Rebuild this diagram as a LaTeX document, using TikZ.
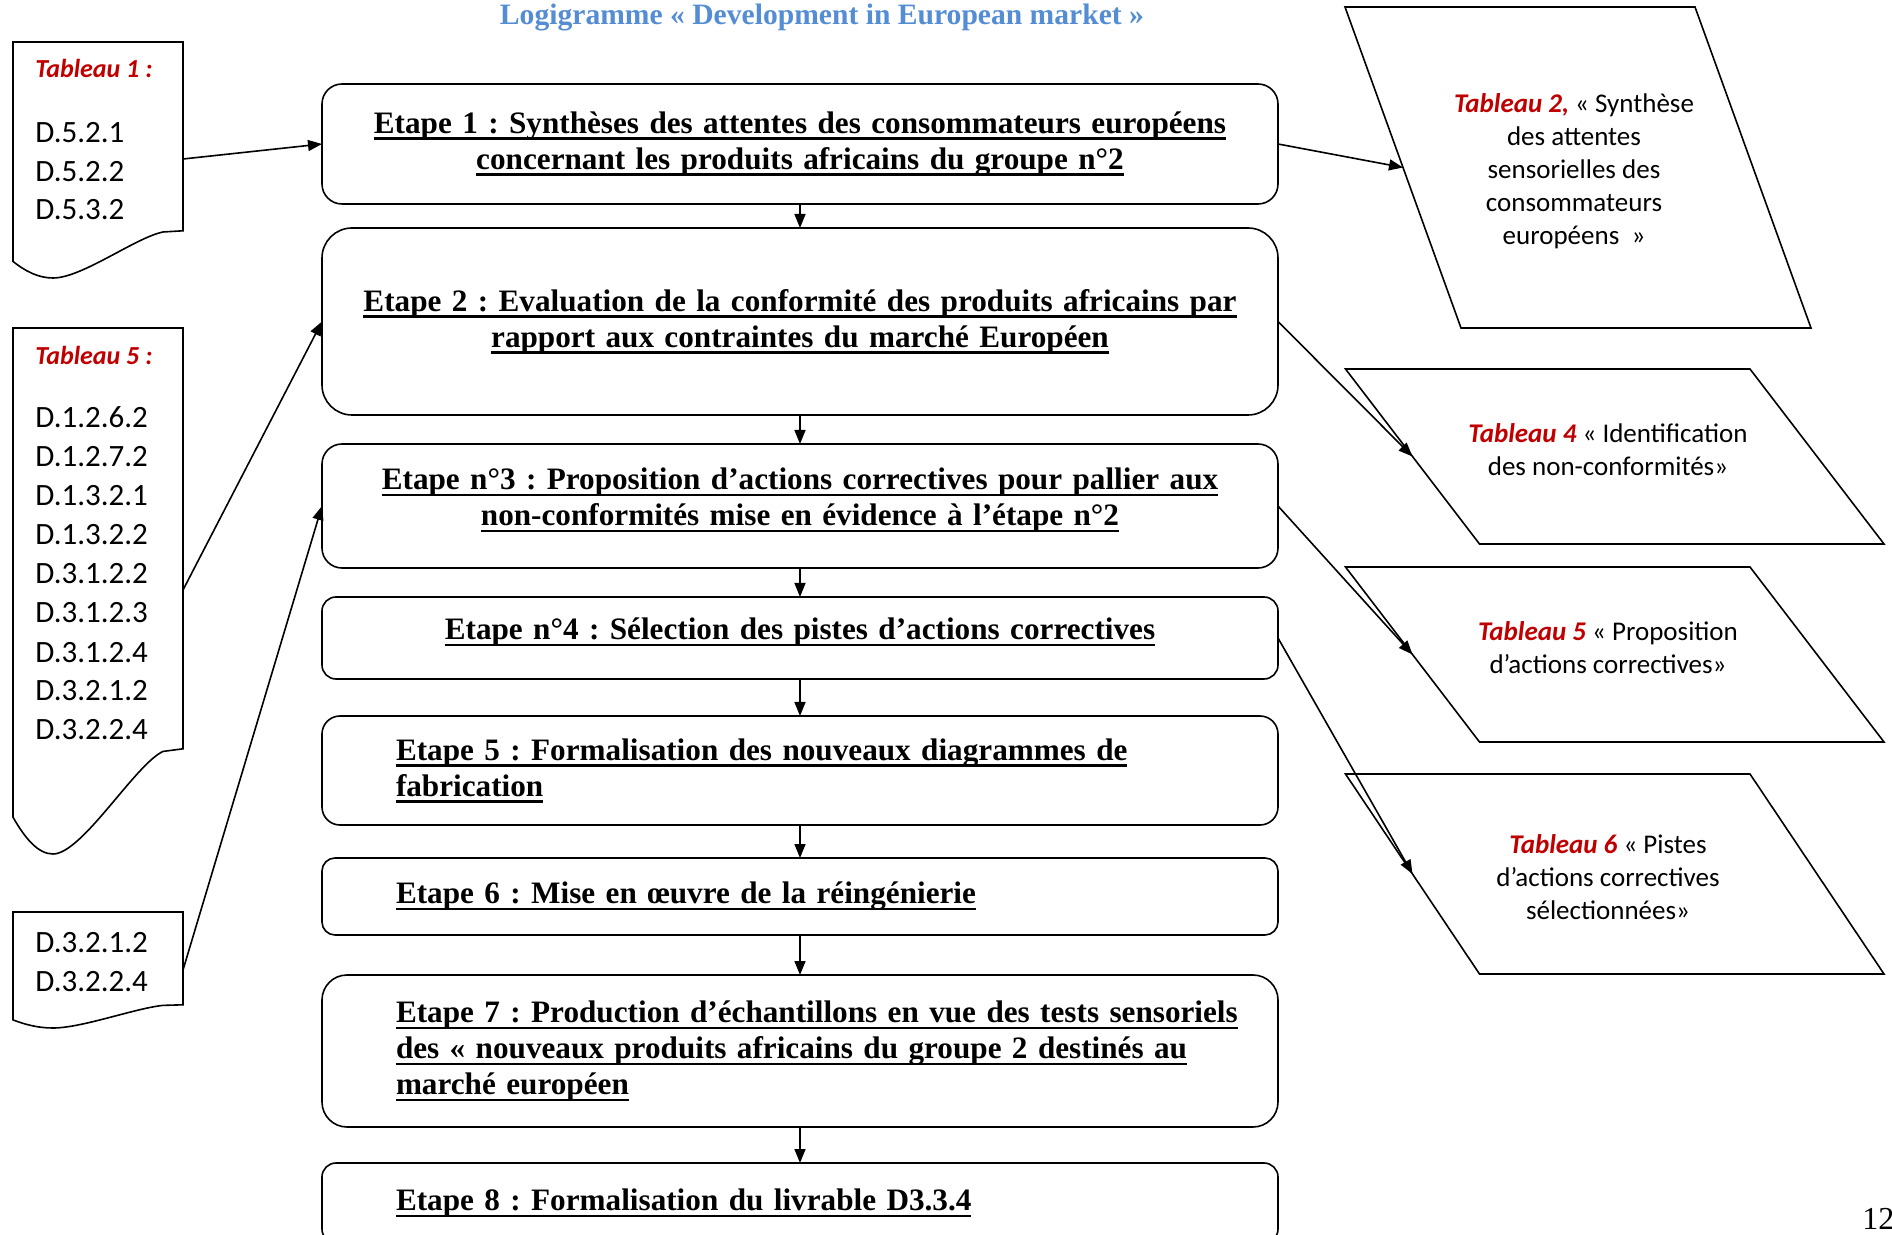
\documentclass[tikz,border=0pt]{standalone}
\usepackage{fontspec}
\setmainfont{Liberation Serif}
\newfontfamily\calibri{Carlito}
\usetikzlibrary{arrows.meta, positioning}
\definecolor{tabred}{RGB}{192,0,0}
\definecolor{titleblue}{RGB}{84,141,212}
\frenchspacing
% thick underline for the step titles
\newcommand{\etapeul}[1]{\leavevmode\setbox0\hbox{#1}\rlap{\rule[-3.2pt]{\wd0}{1.2pt}}\box0}
% document shape: #1 = top, #2 = height (px)
\newcommand{\docshape}[2]{%
  \draw[docline] (13,#1) -- (183,#1) -- (183,{#1+0.8*#2}) -- (163,{#1+0.805*#2})
    .. controls (135,{#1+0.83*#2}) and (82,{#1+#2}) .. (53,{#1+#2})
    .. controls (38,{#1+#2}) and (25,{#1+0.97*#2}) .. (13,{#1+0.93*#2}) -- cycle;}

\begin{document}
\begin{tikzpicture}[
    x=0.5pt, y=-0.5pt,
    stepbox/.style={draw, line width=0.8pt, outer sep=0pt, align=center, text width=470pt, minimum width=478pt, inner sep=2pt, font=\bfseries\fontsize{15.6}{18}\selectfont},
    stepleft/.style={stepbox, align=left, text width=404pt},
    docline/.style={line width=0.8pt},
    doctext/.style={anchor=base west, inner sep=0pt, font=\calibri\fontsize{15.5}{19}\selectfont},
    doctitle/.style={doctext, text=tabred, font=\calibri\bfseries\itshape\fontsize{13}{16}\selectfont},
    tabshape/.style={line width=0.8pt},
    tabtext/.style={align=center, font=\calibri\fontsize{13.5}{16.5}\selectfont},
    arr/.style={-{Triangle[length=7pt, width=5.5pt]}, line width=0.8pt}
]
\useasboundingbox (0,0) rectangle (1892,1235);

\node[anchor=base, text=titleblue, font=\bfseries\fontsize{14.8}{18}\selectfont] (titre) at (822,25) {Logigramme « Development in European market »};

% steps
\node[stepbox, minimum height=60pt, rounded corners=10pt] (e1) at (800,144) {\etapeul{Etape 1 : Synthèses des attentes des consommateurs européens}\\\etapeul{concernant les produits africains du groupe n°2}};
\node[stepbox, below=12pt of e1, minimum height=93.5pt, rounded corners=15pt] (e2) {\etapeul{Etape 2 : Evaluation de la conformité des produits africains par}\\\etapeul{rapport aux contraintes du marché Européen}};
\node[stepbox, below=14.5pt of e2, minimum height=62pt, rounded corners=10pt, text depth=27.2pt] (e3) {\etapeul{Etape n°3 : Proposition d’actions correctives pour pallier aux}\\\etapeul{non-conformités mise en évidence à l’étape n°2}};
\node[stepbox, below=14.5pt of e3, minimum height=41pt, rounded corners=7pt, text depth=9pt] (e4) {\etapeul{Etape n°4 : Sélection des pistes d’actions correctives}};
\node[stepleft, below=18.5pt of e4, minimum height=54.5pt, rounded corners=9pt] (e5) {\etapeul{Etape 5 : Formalisation des nouveaux diagrammes de}\\\etapeul{fabrication}};
\node[stepleft, below=16.5pt of e5, minimum height=38.5pt, rounded corners=6.5pt] (e6) {\etapeul{Etape 6 : Mise en œuvre de la réingénierie}};
\node[stepleft, below=20pt of e6, minimum height=76pt, rounded corners=12.5pt] (e7) {\etapeul{Etape 7 : Production d’échantillons en vue des tests sensoriels}\\\etapeul{des « nouveaux produits africains du groupe 2 destinés au}\\\etapeul{marché européen}};
\node[stepleft, below=18pt of e7, minimum height=40pt, rounded corners=7pt] (e8) {\etapeul{Etape 8 : Formalisation du livrable D3.3.4}};

\foreach \a/\b in {e1/e2, e2/e3, e3/e4, e4/e5, e5/e6, e6/e7, e7/e8}
  \draw[arr] (\a) -- (\b);

% input documents
\docshape{42}{236}
\node[doctitle] (tab1) at (35,78) {Tableau 1 :};
\foreach \code [count=\i] in {D.5.2.1, D.5.2.2, D.5.3.2}
  \node[doctext] (d1l\i) at (35,{143+38.5*(\i-1)}) {\code};
\coordinate (d1out) at (183,159);

\docshape{328}{526}
\node[doctitle] (tab5) at (35,365) {Tableau 5 :};
\foreach \code [count=\i] in {D.1.2.6.2, D.1.2.7.2, D.1.3.2.1, D.1.3.2.2, D.3.1.2.2, D.3.1.2.3, D.3.1.2.4, D.3.2.1.2, D.3.2.2.4}
  \node[doctext] (d2l\i) at (35,{428+39*(\i-1)}) {\code};
\coordinate (d2out) at (183,590);

\docshape{912}{116}
\foreach \code [count=\i] in {D.3.2.1.2, D.3.2.2.4}
  \node[doctext] (d3l\i) at (35,{952+39*(\i-1)}) {\code};
\coordinate (d3out) at (183,970);

\draw[arr] (d1out) -- (e1.west);
\draw[arr] (d2out) -- (e2.west);
\draw[arr] (d3out) -- (e3.west);

% output tables
\draw[tabshape] (1345,7) -- (1695,7) -- (1811,328) -- (1461,328) -- cycle;
\node[tabtext] (tab2) at (1574,171) {\textcolor{tabred}{\bfseries\itshape Tableau 2,} « Synthèse\\des attentes\\sensorielles des\\consommateurs\\européens~~»};
\coordinate (tab2in) at (1403,167.5);

\draw[tabshape] (1345.5,369) -- (1750,369) -- (1884,544) -- (1479.5,544) -- cycle;
\node[tabtext] (tab4) at (1608,450) {\textcolor{tabred}{\bfseries\itshape Tableau 4} « Identification\\des non-conformités»};
\coordinate (tab4in) at (1412.5,456.5);

\draw[tabshape] (1345.5,567) -- (1750,567) -- (1884,742) -- (1479.5,742) -- cycle;
\node[tabtext] (tab5b) at (1608,648) {\textcolor{tabred}{\bfseries\itshape Tableau 5} « Proposition\\d’actions correctives»};
\coordinate (tab5in) at (1412.5,654.5);

\draw[tabshape] (1345.5,774) -- (1750,774) -- (1884,974) -- (1479.5,974) -- cycle;
\node[tabtext] (tab6) at (1608,877) {\textcolor{tabred}{\bfseries\itshape Tableau 6} « Pistes\\d’actions correctives\\sélectionnées»};
\coordinate (tab6in) at (1412.5,874);

\draw[arr] (e1.east) -- (tab2in);
\draw[arr] (e2.east) -- (tab4in);
\draw[arr] (e3.east) -- (tab5in);
\draw[arr] (e4.east) -- (tab6in);

\node[anchor=base west, inner sep=0pt, font=\fontsize{16}{19}\selectfont] (page) at (1862,1229) {12};
\end{tikzpicture}
\end{document}
